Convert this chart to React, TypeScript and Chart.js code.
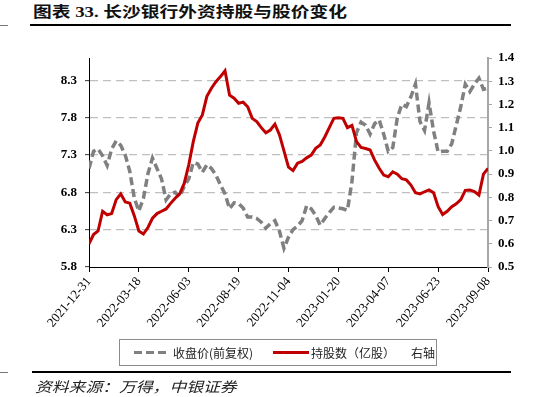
import React, { useEffect, useRef } from 'react';
import { Chart, registerables } from 'chart.js';

Chart.register(...registerables);

const X_TICK_LABELS = ['2021-12-31', '2022-03-18', '2022-06-03', '2022-08-19', '2022-11-04', '2023-01-20', '2023-04-07', '2023-06-23', '2023-09-08'];
const WEEKS_PER_TICK = 11;

// 收盘价(前复权), weekly, left axis
const PRICE = [
  7.12, 7.35, 7.38, 7.29, 7.16, 7.38, 7.49, 7.43, 7.30, 7.08, 6.72,
  6.55, 6.72, 7.05, 7.26, 7.12, 6.98, 6.70, 6.78, 6.80, 6.74, 6.88,
  6.98, 7.20, 7.18, 7.07, 7.17, 7.12, 7.03, 6.90, 6.78, 6.58, 6.66,
  6.65, 6.59, 6.47, 6.47, 6.45, 6.40, 6.32, 6.38, 6.42, 6.28, 6.05,
  6.20, 6.30, 6.35, 6.42, 6.62, 6.58, 6.49, 6.36, 6.45, 6.53, 6.60,
  6.59, 6.58, 6.56, 6.95, 7.60, 7.74, 7.70, 7.58, 7.72, 7.77, 7.58,
  7.35, 7.40, 7.80, 7.98, 7.95, 8.08, 8.25, 7.75, 7.63, 8.00, 7.62,
  7.34, 7.35, 7.35, 7.45, 7.70, 7.95, 8.25, 8.15, 8.25, 8.33, 8.18,
  8.20,
];

// 持股数（亿股）, weekly, right axis
const HOLDING = [
  0.60, 0.64, 0.655, 0.74, 0.725, 0.73, 0.79, 0.815, 0.78, 0.775, 0.72,
  0.655, 0.642, 0.67, 0.71, 0.73, 0.74, 0.75, 0.774, 0.796, 0.815, 0.86,
  0.94, 1.04, 1.12, 1.155, 1.235, 1.27, 1.298, 1.32, 1.345, 1.24, 1.227,
  1.205, 1.21, 1.19, 1.14, 1.126, 1.10, 1.078, 1.09, 1.115, 1.07, 1.00,
  0.93, 0.915, 0.947, 0.955, 0.97, 0.982, 1.011, 1.025, 1.06, 1.10, 1.14,
  1.143, 1.14, 1.10, 1.11, 1.04, 1.015, 1.01, 1.004, 0.96, 0.925, 0.896,
  0.889, 0.91, 0.90, 0.88, 0.875, 0.853, 0.82, 0.815, 0.824, 0.832, 0.82,
  0.76, 0.726, 0.74, 0.76, 0.772, 0.79, 0.83, 0.832, 0.825, 0.81, 0.90,
  0.925,
];

const LEFT_TICKS = [5.8, 6.3, 6.8, 7.3, 7.8, 8.3];
const LEFT_MIN = 5.8;
const LEFT_MAX = 8.6;
const RIGHT_TICKS = [0.5, 0.6, 0.7, 0.8, 0.9, 1.0, 1.1, 1.2, 1.3, 1.4];

const SERIF = '"Liberation Serif", "Times New Roman", serif';
const CJK = '"Liberation Serif", "Noto Sans CJK SC", sans-serif';

export default function App() {
  const canvasRef = useRef<HTMLCanvasElement>(null);

  useEffect(() => {
    const canvas = canvasRef.current;
    if (!canvas) return;
    const chart = new Chart(canvas, {
      type: 'line',
      data: {
        datasets: [
          {
            label: '持股数（亿股）',
            data: HOLDING.map((y, i) => ({ x: i, y })),
            yAxisID: 'y1',
            borderColor: '#C00000',
            borderWidth: 3,
            pointRadius: 0,
            tension: 0,
            order: 0,
          },
          {
            label: '收盘价(前复权)',
            data: PRICE.map((y, i) => ({ x: i, y })),
            yAxisID: 'y',
            borderColor: '#808080',
            borderWidth: 3.5,
            borderDash: [8, 4],
            pointRadius: 0,
            tension: 0,
            order: 1,
          },
        ],
      },
      options: {
        animation: false,
        responsive: false,
        layout: { padding: { top: 18, left: 0, right: 0, bottom: 0 } },
        plugins: { legend: { display: false }, tooltip: { enabled: false } },
        scales: {
          x: {
            type: 'linear',
            min: 0,
            max: (X_TICK_LABELS.length - 1) * WEEKS_PER_TICK,
            afterBuildTicks: (s: any) => {
              s.ticks = X_TICK_LABELS.map((_, k) => ({ value: k * WEEKS_PER_TICK }));
            },
            afterFit: (s: any) => {
              s.height = 73;
            },
            ticks: {
              autoSkip: false,
              minRotation: 50,
              maxRotation: 50,
              padding: 2,
              color: '#000',
              font: { family: SERIF, size: 13 },
              callback: (v: any) => X_TICK_LABELS[Math.round(Number(v) / WEEKS_PER_TICK)],
            },
            grid: { drawOnChartArea: false, tickLength: 5, color: '#000', tickColor: '#000' },
            border: { color: '#000', width: 1 },
          },
          y: {
            position: 'left',
            min: LEFT_MIN,
            max: LEFT_MAX,
            afterBuildTicks: (s: any) => {
              s.ticks = LEFT_TICKS.map((v) => ({ value: v }));
            },
            afterFit: (s: any) => {
              s.width = 89;
            },
            ticks: {
              padding: 8,
              color: '#000',
              font: { family: SERIF, size: 13, weight: 'bold' },
              callback: (v: any) => Number(v).toFixed(1),
            },
            grid: {
              color: (c: any) =>
                c.tick && Math.abs(c.tick.value - LEFT_MIN) < 1e-6 ? 'rgba(0,0,0,0)' : '#BFBFBF',
              lineWidth: 1.3,
              tickLength: 4,
              tickColor: '#333',
              tickWidth: 1,
            },
            border: { color: '#000', width: 1, dash: [8, 5] },
          },
          y1: {
            position: 'right',
            min: RIGHT_TICKS[0],
            max: RIGHT_TICKS[RIGHT_TICKS.length - 1],
            afterBuildTicks: (s: any) => {
              s.ticks = RIGHT_TICKS.map((v) => ({ value: v }));
            },
            afterFit: (s: any) => {
              s.width = 65;
            },
            ticks: {
              padding: 6,
              color: '#000',
              font: { family: SERIF, size: 13, weight: 'bold' },
              callback: (v: any) => Number(v).toFixed(1),
            },
            grid: { drawOnChartArea: false, tickLength: 4, color: '#A6A6A6', tickColor: '#A6A6A6' },
            border: { color: '#A6A6A6', width: 2 },
          },
        },
      },
    } as any);
    return () => chart.destroy();
  }, []);

  return (
    <div style={{ position: 'absolute', left: 0, top: 0, width: 553, height: 397, background: '#fff', overflow: 'hidden' }}>
      <div
        style={{
          position: 'absolute', left: 33, top: 2, fontSize: 15, fontWeight: 'bold', fontFamily: CJK,
          whiteSpace: 'nowrap', transform: 'scaleX(1.25)', transformOrigin: 'left top', color: '#111', lineHeight: '20px',
        }}
      >
        图表 33. 长沙银行外资持股与股价变化
      </div>
      <div style={{ position: 'absolute', left: 0, top: 25, width: 8, height: 1, background: '#777' }} />
      <div style={{ position: 'absolute', left: 30, top: 24, width: 481, height: 2, background: '#000' }} />

      <canvas
        ref={canvasRef}
        width={553}
        height={300}
        style={{ position: 'absolute', left: 0, top: 40, width: 553, height: 300, display: 'block' }}
      />

      <div
        style={{
          position: 'absolute', left: 119, top: 339, width: 318, height: 27, border: '1px solid #8c8c8c',
          boxSizing: 'border-box', fontFamily: '"Noto Sans CJK SC", sans-serif', fontSize: 12, color: '#222',
        }}
      >
        <div
          style={{
            position: 'absolute', left: 14, top: 11, width: 35, height: 3,
            background: 'repeating-linear-gradient(to right, #808080 0px, #808080 8px, transparent 8px, transparent 12px)',
          }}
        />
        <div style={{ position: 'absolute', left: 53, top: 0, lineHeight: '25px', whiteSpace: 'nowrap' }}>收盘价(前复权)</div>
        <div style={{ position: 'absolute', left: 153, top: 11, width: 36, height: 3, background: '#C00000' }} />
        <div style={{ position: 'absolute', left: 191, top: 0, lineHeight: '25px', whiteSpace: 'nowrap' }}>持股数（亿股）</div>
        <div style={{ position: 'absolute', left: 291, top: 0, lineHeight: '25px', whiteSpace: 'nowrap' }}>右轴</div>
      </div>

      <div style={{ position: 'absolute', left: 0, top: 372, width: 8, height: 1, background: '#777' }} />
      <div style={{ position: 'absolute', left: 32, top: 371, width: 479, height: 1.5, background: '#000' }} />
      <div
        style={{
          position: 'absolute', left: 35, top: 377, fontSize: 14, fontStyle: 'italic', fontFamily: '"Noto Sans CJK SC", sans-serif',
          whiteSpace: 'nowrap', transform: 'scaleX(1.2)', transformOrigin: 'left top', color: '#222', lineHeight: '18px',
        }}
      >
        资料来源：万得，中银证券
      </div>
    </div>
  );
}
